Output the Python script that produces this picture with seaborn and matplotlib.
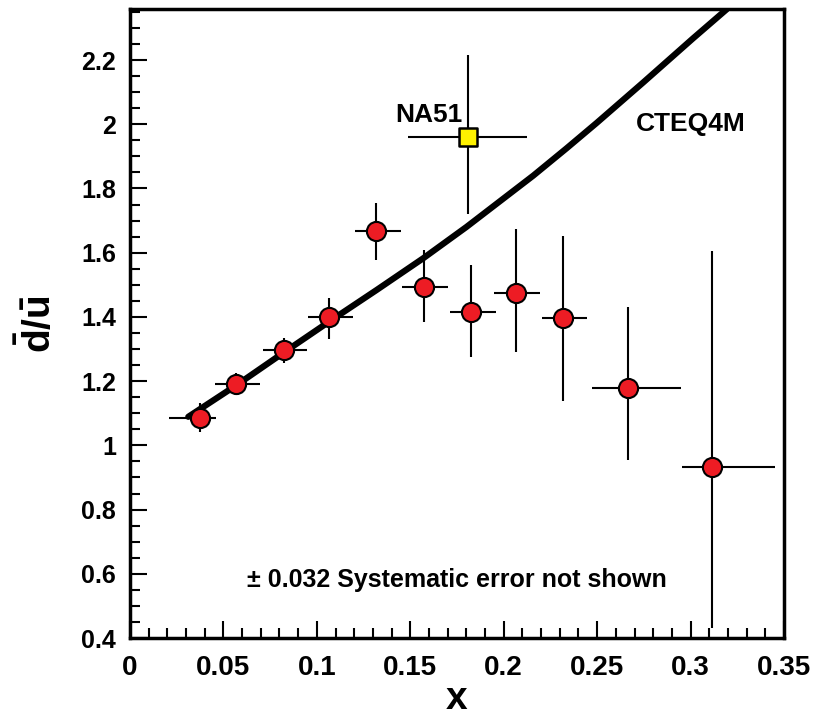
import matplotlib
matplotlib.use("Agg")
import matplotlib.pyplot as plt
from matplotlib import font_manager
from matplotlib.ticker import MultipleLocator, FormatStrFormatter
import seaborn as sns
import pandas as pd

# E866 data points (x, d-bar/u-bar) with bin edges and error bar ends
x_e866 = [0.0375, 0.0567, 0.0822, 0.1066, 0.1316, 0.1573, 0.1824, 0.2064, 0.2318, 0.2663, 0.3114]
y_e866 = [1.085, 1.191, 1.297, 1.399, 1.667, 1.494, 1.415, 1.475, 1.397, 1.178, 0.932]
x_lo = [0.0209, 0.0455, 0.0712, 0.0952, 0.1202, 0.1454, 0.1710, 0.1946, 0.2206, 0.2473, 0.2952]
x_hi = [0.0460, 0.0696, 0.0947, 0.1192, 0.1452, 0.1700, 0.1957, 0.2195, 0.2447, 0.2946, 0.3451]
y_lo = [1.042, 1.163, 1.258, 1.330, 1.576, 1.383, 1.274, 1.291, 1.138, 0.955, 0.432]
y_hi = [1.132, 1.225, 1.335, 1.460, 1.754, 1.609, 1.561, 1.673, 1.652, 1.432, 1.605]

# NA51 point
x_na51 = [0.1807]
y_na51 = [1.960]
x_na51_lo = [0.1486]
x_na51_hi = [0.2126]
y_na51_lo = [1.720]
y_na51_hi = [2.215]

# CTEQ4M curve
x_cteq = [0.0312, 0.0571, 0.082, 0.107, 0.132, 0.157, 0.180, 0.2158, 0.2336, 0.2497, 0.2746, 0.3014, 0.3193]
y_cteq = [1.089, 1.188, 1.288, 1.387, 1.484, 1.583, 1.680, 1.840, 1.925, 2.004, 2.130, 2.268, 2.358]

sns.set_style("ticks")

installed = {f.name for f in font_manager.fontManager.ttflist}
narrow = "Liberation Sans Narrow" if "Liberation Sans Narrow" in installed else "Liberation Sans"
plt.rcParams["font.family"] = [narrow, "DejaVu Sans"]
plt.rcParams["font.weight"] = "bold"
plt.rcParams["mathtext.fontset"] = "custom"
plt.rcParams["mathtext.bf"] = narrow + ":bold"
plt.rcParams["mathtext.rm"] = narrow + ":bold"
for key in ["text.color", "axes.labelcolor", "xtick.color", "ytick.color", "axes.edgecolor"]:
    plt.rcParams[key] = "black"

df = pd.DataFrame({"x": x_e866, "y": y_e866})
df_na = pd.DataFrame({"x": x_na51, "y": y_na51})
df_cteq = pd.DataFrame({"x": x_cteq, "y": y_cteq})

fig = plt.figure(figsize=(8.15, 7.28), dpi=100)
ax = fig.add_axes([0.1595, 0.1236, 0.8025, 0.8636])

xerr = [[a - b for a, b in zip(x_e866, x_lo)], [b - a for a, b in zip(x_e866, x_hi)]]
yerr = [[a - b for a, b in zip(y_e866, y_lo)], [b - a for a, b in zip(y_e866, y_hi)]]
ax.errorbar(x_e866, y_e866, xerr=xerr, yerr=yerr, fmt="none", ecolor="black",
            elinewidth=1.5, capsize=0, zorder=2)
ax.errorbar(x_na51, y_na51,
            xerr=[[x_na51[0] - x_na51_lo[0]], [x_na51_hi[0] - x_na51[0]]],
            yerr=[[y_na51[0] - y_na51_lo[0]], [y_na51_hi[0] - y_na51[0]]],
            fmt="none", ecolor="black", elinewidth=1.5, capsize=0, zorder=2)

sns.lineplot(data=df_cteq, x="x", y="y", ax=ax, color="black", linewidth=4.5,
             zorder=3, legend=False)

sns.scatterplot(data=df, x="x", y="y", ax=ax, marker="o", s=190, color="#ED1C24",
                edgecolor="black", linewidth=1.5, zorder=4, legend=False)
sns.scatterplot(data=df_na, x="x", y="y", ax=ax, marker="s", s=170, color="#FFF200",
                edgecolor="black", linewidth=1.8, zorder=4, legend=False)

ax.set_xlim(0, 0.35)
ax.set_ylim(0.4, 2.358)
ax.xaxis.set_major_locator(MultipleLocator(0.05))
ax.xaxis.set_minor_locator(MultipleLocator(0.01))
ax.yaxis.set_major_locator(MultipleLocator(0.2))
ax.yaxis.set_minor_locator(MultipleLocator(0.05))
ax.xaxis.set_major_formatter(FormatStrFormatter("%g"))
ax.yaxis.set_major_formatter(FormatStrFormatter("%g"))

ax.tick_params(which="both", direction="in", top=False, right=False, width=1.5,
               color="black")
ax.tick_params(which="major", length=12)
ax.tick_params(which="minor", length=7)
ax.tick_params(axis="x", which="major", labelsize=20, pad=12)
ax.tick_params(axis="y", which="major", labelsize=18, pad=10)
for lab in ax.get_yticklabels() + ax.get_xticklabels():
    lab.set_weight("bold")

for sp in ax.spines.values():
    sp.set_linewidth(2.5)
    sp.set_visible(True)
    sp.set_color("black")

ax.set_xlabel("x", fontsize=28, fontweight="bold", labelpad=0)
ax.set_ylabel(r"$\mathbf{\bar{d}/\bar{u}}$", fontsize=28, labelpad=16)

ax.text(0.16, 2.03, "NA51", fontsize=19, fontweight="bold", ha="center", va="center")
ax.text(0.30, 2.00, "CTEQ4M", fontsize=19, fontweight="bold", ha="center", va="center")
ax.text(0.175, 0.58, "\u00b1 0.032 Systematic error not shown", fontsize=18,
        fontweight="bold", ha="center", va="center")

fig.savefig("out.png", dpi=100)
